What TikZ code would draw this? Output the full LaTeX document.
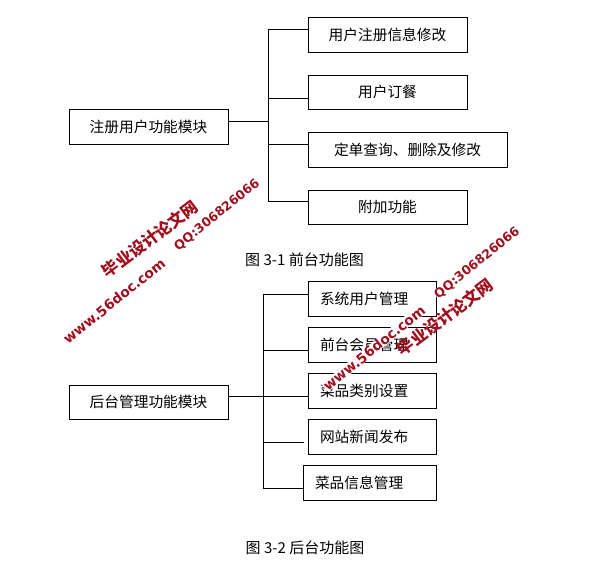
\documentclass[tikz,border=0pt]{standalone}
\usepackage{fontspec}
\setmainfont{Noto Sans CJK SC}
\newfontfamily\wmfont{DejaVu Sans}
\definecolor{wmred}{RGB}{160,15,30}
\tikzset{
  x=1pt,y=-1pt,
  boxbase/.style={draw=black,line width=0.9pt,anchor=north west,inner sep=0pt,outer sep=0pt,font=\fontsize{14.7}{16}\selectfont},
  cbox/.style={boxbase,align=center},
  lbox/.style={boxbase,text width=#1,align=left,minimum width=#1},
  link/.style={draw=black,line width=0.9pt},
  caption/.style={anchor=center,inner sep=0pt,font=\fontsize{15}{16}\selectfont},
  wmcn/.style={text=wmred,inner sep=0pt,rotate=37,font=\fontsize{16.4}{18}\selectfont\bfseries},
  wmen/.style={text=wmred,inner sep=0pt,rotate=39,font=\wmfont\fontsize{13.8}{17}\selectfont\bfseries},
  wmqq/.style={text=wmred,inner sep=0pt,rotate=39,font=\wmfont\fontsize{12.6}{17}\selectfont\bfseries},
  halo/.style={fill=white},
}
\newcommand{\lb}[1]{\hspace*{12pt}#1}
\begin{document}
\begin{tikzpicture}
\useasboundingbox (0,0) rectangle (602,585);
% top tree
\node[cbox,minimum width=159pt,minimum height=35pt] (r1) at (69,109) {注册用户功能模块};
\node[cbox,minimum width=159pt,minimum height=35pt] (a1) at (308,17) {用户注册信息修改};
\node[cbox,minimum width=159pt,minimum height=34pt] (a2) at (308,75) {用户订餐};
\node[cbox,minimum width=199pt,minimum height=35pt] (a3) at (308,132) {定单查询、删除及修改};
\node[cbox,minimum width=159pt,minimum height=34pt] (a4) at (308,190) {附加功能};
\coordinate (t1) at (268,29);
\coordinate (t2) at (268,98);
\coordinate (t3) at (268,144);
\coordinate (t4) at (268,201);
\coordinate (t0) at (268,121);
\draw[link] (t1 -| a1.west) -- (t1) -- (t4) -- (t4 -| a4.west);
\draw[link] (t2) -- (t2 -| a2.west);
\draw[link] (t3) -- (t3 -| a3.west);
\draw[link] (t0 -| r1.east) -- (t0);
\node[caption] (c1) at (304.5,260) {图 3-1 前台功能图};
% bottom tree
\node[cbox,minimum width=159pt,minimum height=34pt] (r2) at (69,385) {后台管理功能模块};
\node[lbox=128pt,minimum height=35pt] (b1) at (308,281) {\lb{系统用户管理}};
\node[lbox=128pt,minimum height=35pt] (b2) at (308,327) {\lb{前台会员管理}};
\node[lbox=128pt,minimum height=35pt] (b3) at (308,373) {\lb{菜品类别设置}};
\node[lbox=128pt,minimum height=35pt] (b4) at (308,419) {\lb{网站新闻发布}};
\node[lbox=133pt,minimum height=35pt] (b5) at (303,465) {\lb{菜品信息管理}};
\coordinate (s1) at (263,294);
\coordinate (s2) at (263,350);
\coordinate (s3) at (263,396);
\coordinate (s4) at (263,442);
\coordinate (s5) at (263,488);
\coordinate (s4e) at (304,442);
\draw[link] (s1 -| b1.west) -- (s1) -- (s5) -- (s5 -| b5.west);
\draw[link] (s2) -- (s2 -| b2.west);
\draw[link] (s3 -| r2.east) -- (s3 -| b3.west);
\draw[link] (s4) -- (s4e);
\node[caption] (c2) at (305,548) {图 3-2 后台功能图};
% watermarks
\node[wmcn] (w1) at (150,239) {毕业设计论文网};
\node[wmen] (w2) at (114,301) {www.56doc.com};
\node[wmqq] (w3) at (217,215) {QQ:306826066};
\node[wmen,halo] (w5) at (374,348) {www.56doc.com};
\node[wmqq,halo] (w6) at (477,263) {QQ:306826066};
\node[wmcn] (w4) at (445,317) {毕业设计论文网};
\end{tikzpicture}
\end{document}
